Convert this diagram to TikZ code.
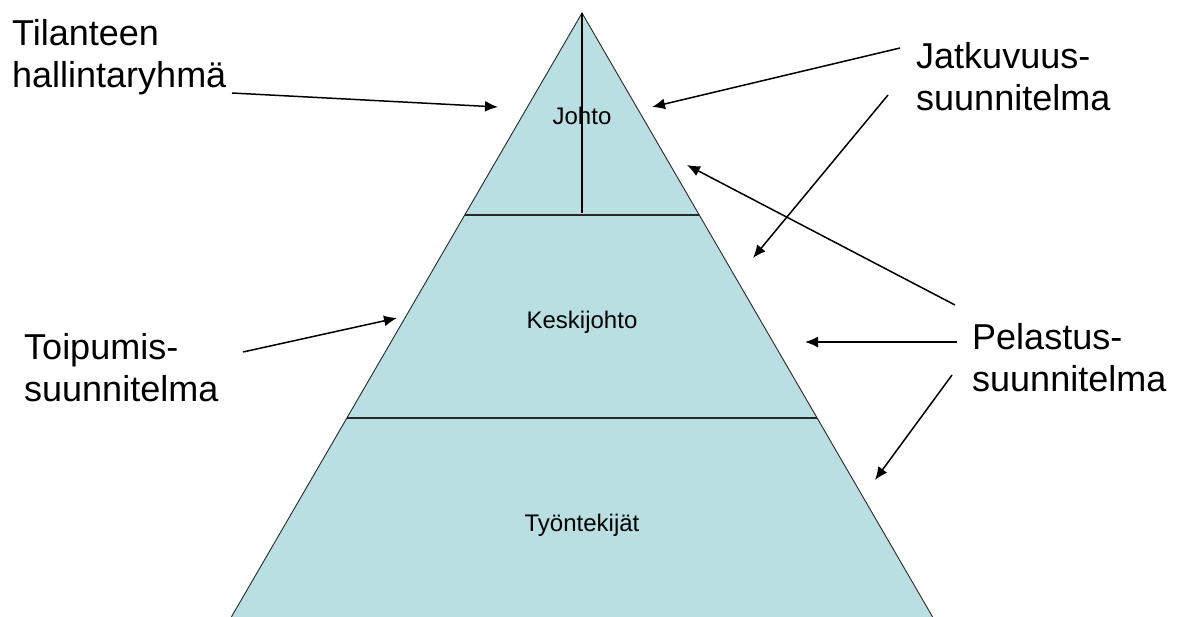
\documentclass[tikz,border=0pt]{standalone}
\usepackage{fontspec}
\setmainfont{Liberation Sans}
\usetikzlibrary{arrows.meta}

\definecolor{pyrfill}{RGB}{185,223,227}
\definecolor{pyrline}{RGB}{40,40,40}

\tikzset{
    bigtext/.style={font=\fontsize{36}{42}\selectfont, align=left, inner sep=0pt, anchor=base west},
    layertext/.style={font=\fontsize{24}{28}\selectfont, inner sep=0pt, anchor=base},
    pointer/.style={-{Latex[length=13pt,width=11pt]}, line width=1.5pt},
}

\begin{document}
\begin{tikzpicture}[x=1pt,y=-1pt]
        \useasboundingbox (0,0) rectangle (1182,616);
        \clip (0,0) rectangle (1182,616);

        % Pyramid outline, bottom runs off the page.
        \coordinate (apex) at (582,13);
        \coordinate (baseL) at (218,640);
        \coordinate (baseR) at (946,640);
        \filldraw[fill=pyrfill, draw=pyrline, line width=0.9pt] (apex) -- (baseL) -- (baseR) -- cycle;

        % Layer labels.
        \node[layertext] (johto) at (582,124) {Johto};
        \node[layertext] (keski) at (582,328) {Keskijohto};
        \node[layertext] (tyon) at (582,531) {Työntekijät};

        % Layer borders.
        \coordinate (cut1L) at (465,215);
        \coordinate (cut1R) at (699,215);
        \coordinate (cut2L) at (347,418);
        \coordinate (cut2R) at (817,418);
        \coordinate (split) at (582,213);
        \draw[pyrline, line width=1.3pt] (cut1L) -- (cut1R);
        \draw[pyrline, line width=1.8pt] (cut2L) -- (cut2R);
        \draw[black, line width=1.3pt] (apex) -- (split);

        % Plans (anchored at the baseline of the last line).
        \node[bigtext] (tilanne) at (12,87) {Tilanteen\\hallintaryhmä};
        \node[bigtext] (jatkuvuus) at (916,110) {Jatkuvuus-\\suunnitelma};
        \node[bigtext] (toipumis) at (24,401) {Toipumis-\\suunnitelma};
        \node[bigtext] (pelastus) at (972,391) {Pelastus-\\suunnitelma};

        % Arrow ends.
        \coordinate (tilanneA) at (232,93);
        \coordinate (tilanneB) at (498,107);
        \coordinate (jatkuA) at (900,48);
        \coordinate (jatkuB) at (652,107);
        \coordinate (jatkuC) at (888,95);
        \coordinate (jatkuD) at (753,258);
        \coordinate (pelastA) at (955,305);
        \coordinate (pelastB) at (687,165);
        \coordinate (pelastC) at (957,342);
        \coordinate (pelastD) at (805,342);
        \coordinate (pelastE) at (952,375);
        \coordinate (pelastF) at (875,480);
        \coordinate (toipumA) at (243,352);
        \coordinate (toipumB) at (397,318);

        \foreach \a/\b in {tilanneA/tilanneB, jatkuA/jatkuB, jatkuC/jatkuD, pelastA/pelastB,
                pelastC/pelastD, pelastE/pelastF, toipumA/toipumB}
            \draw[pointer] (\a) -- (\b);
\end{tikzpicture}
\end{document}
